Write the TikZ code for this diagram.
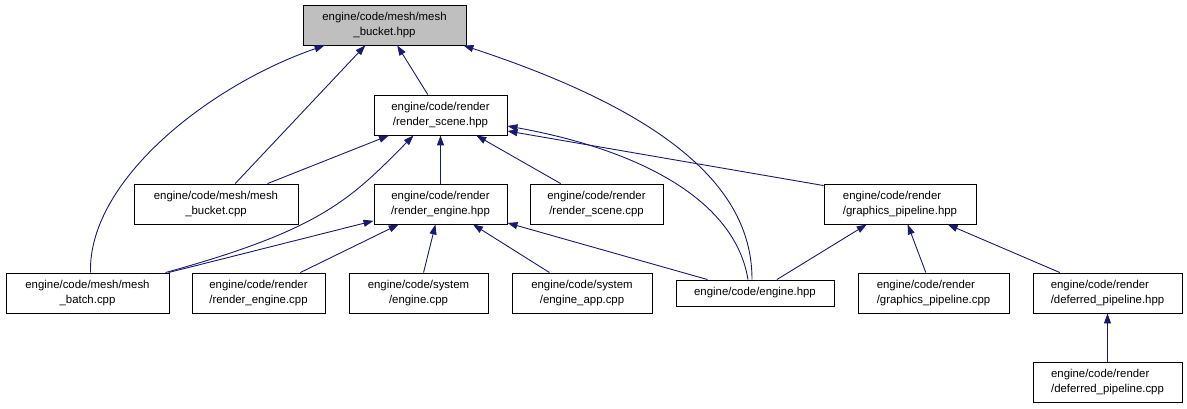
\documentclass[tikz,border=0pt]{standalone}
\usepackage{fontspec}
\setmainfont{Liberation Sans}
\definecolor{edgeblue}{RGB}{25,25,112}
\definecolor{rootgray}{RGB}{191,191,191}
\usetikzlibrary{arrows.meta}

\begin{document}
\begin{tikzpicture}[x=1pt, y=-1pt,
    file/.style={rectangle, draw=black, line width=0.9pt, minimum height=40pt, inner sep=0pt,
      font=\fontsize{11.4}{15}\selectfont},
    inc/.style={draw=edgeblue, line width=0.9pt, -{Triangle[length=10pt, width=7pt]}}
  ]
    \useasboundingbox (0,0) rectangle (1187,409);

    % Top header
    \node[file, fill=rootgray, minimum width=163pt, align=center] (bh) at (384.5,25) {engine/code/mesh/mesh\\\_bucket.hpp};

    % Second row
    \node[file, minimum width=133pt, align=center] (rsh) at (440.5,115) {engine/code/render\\/render\_scene.hpp};

    % Third row
    \node[file, minimum width=164pt, align=center] (bc)  at (216,204)   {engine/code/mesh/mesh\\\_bucket.cpp};
    \node[file, minimum width=133pt, align=center] (reh) at (440.5,204) {engine/code/render\\/render\_engine.hpp};
    \node[file, minimum width=133pt, align=center] (rsc) at (596.5,204) {engine/code/render\\/render\_scene.cpp};
    \node[file, minimum width=152pt, align=left]   (gph) at (900,204)   {engine/code/render\\/graphics\_pipeline.hpp};

    % Fourth row
    \node[file, minimum width=163pt, align=center] (bt)  at (87.5,293)   {engine/code/mesh/mesh\\\_batch.cpp};
    \node[file, minimum width=133pt, align=center] (rec) at (258.5,293)  {engine/code/render\\/render\_engine.cpp};
    \node[file, minimum width=139pt, align=center] (sec) at (418.5,293)  {engine/code/system\\/engine.cpp};
    \node[file, minimum width=140pt, align=center] (eac) at (582,293)    {engine/code/system\\/engine\_app.cpp};
    \node[file, minimum width=158pt, minimum height=26pt] (eh) at (755,293) {engine/code/engine.hpp};
    \node[file, minimum width=151pt, align=left]   (gpc) at (933.5,293)  {engine/code/render\\/graphics\_pipeline.cpp};
    \node[file, minimum width=149pt, align=left]   (dph) at (1107.5,293) {engine/code/render\\/deferred\_pipeline.hpp};

    % Bottom
    \node[file, minimum width=149pt, align=left]   (dpc) at (1107.5,382) {engine/code/render\\/deferred\_pipeline.cpp};

    % Includes of the header
    \draw[inc] ([xshift=3pt]bt.north) .. controls (88,180) and (210,85) .. ([xshift=22pt]bh.south west);
    \draw[inc] (bc) -- (bh);
    \draw[inc] (rsh) -- (bh);
    \draw[inc] ([xshift=-3pt]eh.north) .. controls (752,200) and (690,120) .. ([xshift=-3pt]bh.south east);

    % Includes of render_scene
    \draw[inc] (bc) -- (rsh);
    \draw[inc] ([xshift=-4pt]bt.north east) .. controls (320,230) and (350,200) .. ([xshift=-27pt]rsh.south);
    \draw[inc] (reh) -- (rsh);
    \draw[inc] (rsc) -- (rsh);
    \draw[inc] ([yshift=-2pt]gph.north west) -- ([yshift=-16pt]rsh.east);
    \draw[inc] ([xshift=-7pt]eh.north) .. controls (735,200) and (640,150) .. ([yshift=-11pt]rsh.east);

    % Includes of render_engine
    \draw[inc] (bt) -- (reh);
    \draw[inc] (rec) -- (reh);
    \draw[inc] (sec) -- (reh);
    \draw[inc] (eac) -- (reh);
    \draw[inc] (eh) -- (reh);

    % Pipelines
    \draw[inc] (eh) -- (gph);
    \draw[inc] (gpc) -- (gph);
    \draw[inc] (dph) -- (gph);
    \draw[inc] (dpc) -- (dph);
  \end{tikzpicture}
\end{document}
